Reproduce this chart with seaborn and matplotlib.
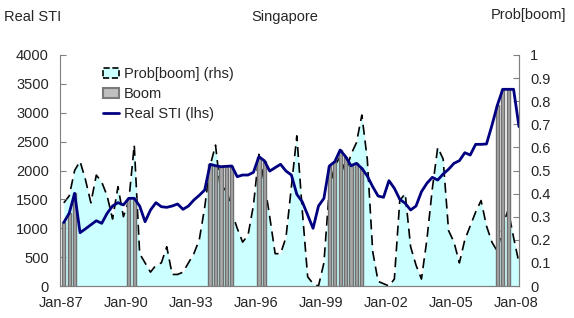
import numpy as np
import pandas as pd
import matplotlib
matplotlib.use("Agg")
import matplotlib.pyplot as plt
import seaborn as sns
from matplotlib.patches import Patch
from matplotlib.lines import Line2D

# quarterly data, 1987Q1 .. 2008Q1
real_sti = [1100, 1260, 1605, 923, 990, 1060, 1130, 1085, 1259, 1385,
            1443, 1403, 1518, 1518, 1385, 1113, 1316, 1443, 1373, 1362,
            1385, 1420, 1328, 1385, 1489, 1570, 1662, 2107, 2083, 2066,
            2072, 2078, 1893, 1922, 1922, 1969, 2239, 2170, 1990, 2050,
            2107, 1991, 1922, 1588, 1460, 1230, 999, 1385, 1518, 2078,
            2152, 2355, 2239, 2083, 2124, 2037, 1905, 1720, 1558, 1536,
            1824, 1692, 1501, 1432, 1316, 1385, 1633, 1778, 1882, 1835,
            1939, 2021, 2124, 2170, 2308, 2268, 2453, 2453, 2459, 2780,
            3130, 3406, 3406, 3406, 2759]
prob_boom = [0.36, 0.39, 0.50, 0.54, 0.46, 0.36, 0.48, 0.45, 0.39, 0.29,
             0.43, 0.30, 0.37, 0.61, 0.14, 0.10, 0.06, 0.09, 0.10, 0.17,
             0.05, 0.05, 0.06, 0.10, 0.14, 0.20, 0.34, 0.52, 0.61, 0.40,
             0.43, 0.32, 0.25, 0.19, 0.22, 0.35, 0.57, 0.45, 0.30, 0.14,
             0.14, 0.21, 0.43, 0.65, 0.33, 0.04, 0.01, 0.00, 0.10, 0.42,
             0.52, 0.56, 0.49, 0.57, 0.62, 0.74, 0.55, 0.15, 0.02, 0.01,
             0.00, 0.03, 0.37, 0.40, 0.17, 0.09, 0.03, 0.20, 0.42, 0.60,
             0.55, 0.24, 0.19, 0.10, 0.20, 0.26, 0.32, 0.37, 0.26, 0.19,
             0.15, 0.26, 0.33, 0.21, 0.10]
boom_quarters = [0, 1, 2, 12, 13, 27, 28, 29, 30, 31, 36, 37,
                 49, 50, 51, 52, 53, 54, 55, 80, 81, 82]
tick_labels = ["Jan-87", "Jan-90", "Jan-93", "Jan-96",
               "Jan-99", "Jan-02", "Jan-05", "Jan-08"]

df = pd.DataFrame({"quarter": np.arange(len(real_sti)),
                   "sti": real_sti, "prob": prob_boom})
boom_df = df.loc[boom_quarters]

sns.set_style("white")
plt.rcParams['font.family'] = ['Liberation Sans', 'DejaVu Sans']
plt.rcParams['font.size'] = 10.5

fig = plt.figure(figsize=(5.74, 3.18), dpi=100)
ax = fig.add_axes([60 / 574, 1 - 286 / 318, 459 / 574, 231 / 318])
ax2 = ax.twinx()
ax.set_zorder(ax2.get_zorder() + 1)
ax.patch.set_visible(False)

# rhs: probability area + dashed line
ax2.fill_between(df["quarter"], df["prob"], color="#ccffff", lw=0)
sns.lineplot(data=df, x="quarter", y="prob", ax=ax2, color="black",
             linewidth=1.2, linestyle=(0, (6, 3.5)))

# lhs: boom bars and index
sns.barplot(data=boom_df, x="quarter", y="sti", ax=ax, native_scale=True,
            width=0.6, color="#a8a8a8", edgecolor="#707070", linewidth=1,
            saturation=1, errorbar=None)
sns.lineplot(data=df, x="quarter", y="sti", ax=ax, color="#000080",
             linewidth=2)

ax.set_xlim(-0.7, 84)
ax.set_ylim(0, 4000)
ax2.set_ylim(0, 1)
ax.set_yticks(range(0, 4001, 500))
ax2.set_yticks(np.round(np.arange(0, 1.01, 0.1), 1))
ax2.set_yticklabels([f"{v:g}" for v in np.round(np.arange(0, 1.01, 0.1), 1)])
ax.set_xticks([-0.5 + 12 * j for j in range(len(tick_labels))], tick_labels)
ax.set(xlabel="", ylabel="")
ax2.set(xlabel="", ylabel="")

for a in (ax, ax2):
    a.tick_params(direction="in", length=4, color="#808080", pad=8,
                  labelsize=10.5)
    a.spines["top"].set_visible(False)
    for s in ("left", "right", "bottom"):
        a.spines[s].set_color("#808080")
ax.tick_params(axis="x", pad=7)
ax.tick_params(axis="y", left=True)
ax2.tick_params(axis="y", right=True)
ax2.spines["left"].set_visible(False)

handles = [Patch(facecolor="#ccffff", edgecolor="black", linestyle="--", lw=1.2),
           Patch(facecolor="#c0c0c0", edgecolor="#7a7a7a", lw=1.5),
           Line2D([], [], color="#000080", lw=2)]
labels = ["Prob[boom] (rhs)", "Boom", "Real STI (lhs)"]
ax.legend(handles, labels, loc="upper left", bbox_to_anchor=(96 / 574, 1 - 60 / 318),
          bbox_transform=fig.transFigure, frameon=False, borderpad=0,
          handlelength=1.1, handletextpad=0.3, labelspacing=0.4, fontsize=10.5)

fig.text(4 / 574, 1 - 17 / 318, "Real STI", ha="left", va="center", fontsize=10.5)
fig.text(285 / 574, 1 - 17 / 318, "Singapore", ha="center", va="center", fontsize=10.5)
fig.text(566 / 574, 1 - 15 / 318, "Prob[boom]", ha="right", va="center", fontsize=10.5)

fig.savefig("out.png", dpi=100)
